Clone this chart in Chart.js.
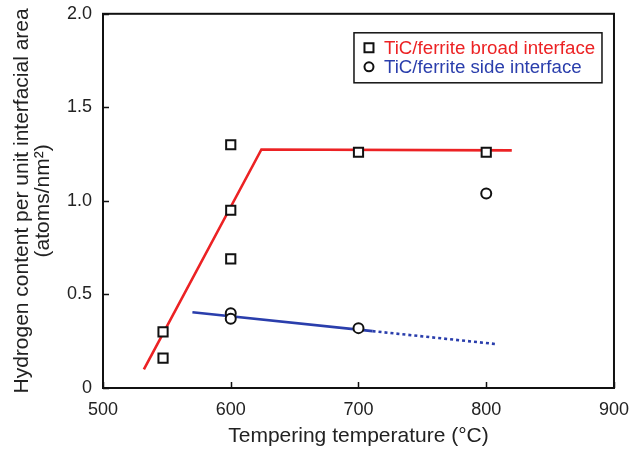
<!DOCTYPE html>
<html><head><meta charset="utf-8">
<script src="https://cdn.jsdelivr.net/npm/chart.js@4"></script>
<style>html,body{margin:0;padding:0;background:#fff}canvas{display:block}</style>
</head><body>
<canvas id="c" width="632" height="454"></canvas>
<script>
// ---- data ----
const broadTemp = [547, 547, 600, 600, 600, 700, 800];
const broadH    = [0.30, 0.16, 1.30, 0.95, 0.69, 1.26, 1.26];
const sideTemp  = [600, 600, 700, 800];
const sideH     = [0.40, 0.37, 0.32, 1.04];
const broadFitTemp = [532, 624, 820];
const broadFitH    = [0.10, 1.275, 1.27];
const sideFitTemp  = [570, 711];
const sideFitH     = [0.405, 0.304];
const sideExtTemp  = [711, 809];
const sideExtH     = [0.304, 0.234];
const xTicks = [500, 600, 700, 800, 900];
const yTicks = [0, 0.5, 1.0, 1.5, 2.0];
const legendLabels = ['TiC/ferrite broad interface', 'TiC/ferrite side interface'];

const RED = 'rgb(236,34,36)';
const BLUE = 'rgb(42,62,172)';
const FONT = '"Liberation Sans", Arial, sans-serif';

const pts = (xs, ys) => xs.map((x, i) => ({x, y: ys[i]}));

const framePlugin = {
  id: 'frame',
  beforeDatasetsDraw(chart) {
    const {ctx, chartArea: a, scales: {x, y}} = chart;
    ctx.save();
    ctx.strokeStyle = '#111';
    ctx.lineWidth = 2;
    ctx.strokeRect(a.left, a.top, a.right - a.left, a.bottom - a.top);
    ctx.lineWidth = 1.5;
    ctx.beginPath();
    x.ticks.forEach(t => {
      const px = Math.round(x.getPixelForValue(t.value)) + 0.5;
      ctx.moveTo(px, a.bottom); ctx.lineTo(px, a.bottom - 6);
    });
    y.ticks.forEach(t => {
      const py = Math.round(y.getPixelForValue(t.value)) + 0.5;
      ctx.moveTo(a.left, py); ctx.lineTo(a.left + 6, py);
    });
    ctx.stroke();
    ctx.restore();
  }
};

const legendPlugin = {
  id: 'boxLegend',
  afterDraw(chart) {
    const {ctx, chartArea: a} = chart;
    const left = a.right - 260, top = a.top + 19, w = 248, h = 50;
    ctx.save();
    ctx.fillStyle = '#fff';
    ctx.fillRect(left, top, w, h);
    ctx.strokeStyle = '#111';
    ctx.lineWidth = 1.5;
    ctx.strokeRect(left, top, w, h);
    const colors = [RED, BLUE];
    ctx.font = '18.7px ' + FONT;
    ctx.textBaseline = 'middle';
    legendLabels.forEach((lab, i) => {
      const cy = top + 15 + i * 19;
      const mx = left + 15;
      ctx.lineWidth = 2;
      ctx.strokeStyle = '#111';
      ctx.beginPath();
      if (i === 0) ctx.rect(mx - 4.5, cy - 4.5, 9, 9);
      else ctx.arc(mx, cy, 4.5, 0, Math.PI * 2);
      ctx.stroke();
      ctx.fillStyle = colors[i];
      ctx.fillText(lab, left + 30, cy + 1);
    });
    ctx.restore();
  }
};

new Chart(document.getElementById('c'), {
  type: 'scatter',
  data: {
    datasets: [
      { label: legendLabels[0], data: pts(broadTemp, broadH), pointStyle: 'rect', pointRadius: 6.5,
        pointBorderWidth: 2, pointBorderColor: '#111', pointBackgroundColor: '#fff', order: 0 },
      { label: legendLabels[1], data: pts(sideTemp, sideH), pointStyle: 'circle', pointRadius: 5,
        pointBorderWidth: 2, pointBorderColor: '#111', pointBackgroundColor: '#fff', order: 0 },
      { label: 'broad fit', data: pts(broadFitTemp, broadFitH), showLine: true, borderColor: RED,
        borderWidth: 2.6, pointRadius: 0, order: 1 },
      { label: 'side fit', data: pts(sideFitTemp, sideFitH), showLine: true, borderColor: BLUE,
        borderWidth: 2.6, pointRadius: 0, order: 1 },
      { label: 'side extrapolation', data: pts(sideExtTemp, sideExtH), showLine: true, borderColor: BLUE,
        borderWidth: 2.6, borderDash: [3, 3], pointRadius: 0, order: 1 }
    ]
  },
  options: {
    responsive: false,
    animation: false,
    devicePixelRatio: 1,
    layout: { padding: { top: 4, right: 11, left: 0, bottom: 0 } },
    plugins: { legend: { display: false }, tooltip: { enabled: false } },
    scales: {
      x: {
        type: 'linear', min: 500, max: 900,
        afterBuildTicks: s => { s.ticks = xTicks.map(v => ({value: v})); },
        afterFit: s => { s.height = 66; },
        grid: { display: false }, border: { display: false },
        ticks: { color: '#222', font: { family: FONT, size: 18 }, padding: 3, maxRotation: 0 },
        title: { display: true, text: 'Tempering temperature (°C)', color: '#222',
                 font: { family: FONT, size: 21 }, padding: { top: 2, bottom: 5 } }
      },
      y: {
        type: 'linear', min: 0, max: 2,
        afterBuildTicks: s => { s.ticks = yTicks.map(v => ({value: v})); },
        afterFit: s => { s.width = 103; },
        grid: { display: false }, border: { display: false },
        ticks: { color: '#222', font: { family: FONT, size: 18 }, padding: 3,
                 callback: v => v === 0 ? '0' : v.toFixed(1) },
        title: { display: true, text: ['Hydrogen content per unit interfacial area', '(atoms/nm²)'],
                 color: '#222', font: { family: FONT, size: 21, lineHeight: 1.0 }, padding: { top: 12, bottom: 0 } }
      }
    }
  },
  plugins: [framePlugin, legendPlugin]
});
</script>
</body></html>
